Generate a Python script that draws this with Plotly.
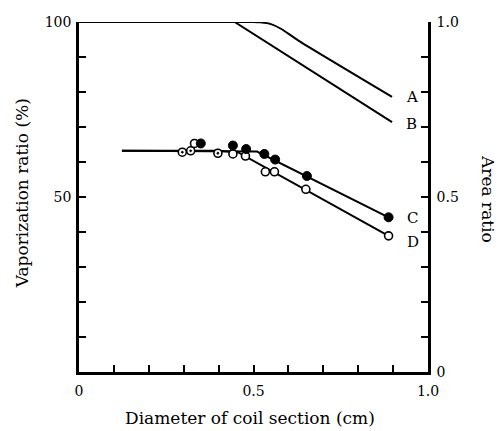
import plotly.graph_objects as go

# Curves A and B (area ratio curves), x in cm, y in %
a_x = [0.0, 0.50, 0.52, 0.55, 0.58, 0.63, 0.897]
a_y = [100.0, 100.0, 99.9, 99.4, 98.0, 94.6, 78.6]
b_x = [0.0, 0.446, 0.897]
b_y = [100.0, 100.0, 71.4]

# Lines through C and D data
c_line_x = [0.123, 0.40, 0.51, 0.887]
c_line_y = [63.2, 63.2, 63.0, 44.2]
d_line_x = [0.123, 0.40, 0.455, 0.887]
d_line_y = [63.2, 63.2, 62.8, 38.9]

# Markers
c_x = [0.349, 0.441, 0.479, 0.531, 0.562, 0.653, 0.887]
c_y = [65.3, 64.7, 63.7, 62.3, 60.7, 56.0, 44.2]
d_x = [0.331, 0.441, 0.477, 0.534, 0.560, 0.650, 0.887]
d_y = [65.3, 62.3, 61.7, 57.2, 57.2, 52.2, 38.9]
dot_x = [0.296, 0.320, 0.398]
dot_y = [62.8, 63.2, 62.5]

curve_labels = ["A", "B", "C", "D"]
label_x = [0.932, 0.932, 0.935, 0.935]
label_y = [78.6, 70.8, 44.0, 37.2]

x_ticks = [0, 0.1, 0.2, 0.3, 0.4, 0.5, 0.6, 0.7, 0.8, 0.9, 1.0]
x_ticktext = ["0", "", "", "", "", "0.5", "", "", "", "", "1.0"]
y_ticks = [0, 10, 20, 30, 40, 50, 60, 70, 80, 90, 100]
y_ticktext = ["", "", "", "", "", "50", "", "", "", "", "100"]
y2_ticks = [0, 0.1, 0.2, 0.3, 0.4, 0.5, 0.6, 0.7, 0.8, 0.9, 1.0]
y2_ticktext = ["0", "", "", "", "", "0.5", "", "", "", "", "1.0"]

FONT = "DejaVu Serif"
LW = 2

fig = go.Figure()
line_style = dict(color="black", width=LW)
fig.add_trace(go.Scatter(x=a_x, y=a_y, mode="lines", line=dict(color="black", width=LW, shape="spline", smoothing=0.6)))
fig.add_trace(go.Scatter(x=b_x, y=b_y, mode="lines", line=line_style))
fig.add_trace(go.Scatter(x=c_line_x, y=c_line_y, mode="lines", line=line_style))
fig.add_trace(go.Scatter(x=d_line_x, y=d_line_y, mode="lines", line=line_style))
fig.add_trace(go.Scatter(x=dot_x, y=dot_y, mode="markers",
                         marker=dict(symbol="circle-dot", size=8, color="white",
                                     line=dict(color="black", width=1.6))))
fig.add_trace(go.Scatter(x=d_x, y=d_y, mode="markers",
                         marker=dict(symbol="circle", size=8, color="white",
                                     line=dict(color="black", width=1.6))))
fig.add_trace(go.Scatter(x=c_x, y=c_y, mode="markers",
                         marker=dict(symbol="circle", size=9, color="black",
                                     line=dict(color="black", width=1))))
# invisible trace to anchor right axis
fig.add_trace(go.Scatter(x=[0, 1], y=[0, 1], yaxis="y2", mode="markers",
                         marker=dict(opacity=0), hoverinfo="skip"))

for t, lx, ly in zip(curve_labels, label_x, label_y):
    fig.add_annotation(x=lx, y=ly, text=t, showarrow=False, xanchor="left",
                       yanchor="middle", font=dict(family=FONT, size=15, color="black"))

fig.add_annotation(xref="paper", yref="paper", x=-0.163, y=0.511,
                   text="Vaporization ratio (%)", textangle=-90, showarrow=False,
                   xanchor="center", yanchor="middle",
                   font=dict(family=FONT, size=17, color="black"))
fig.add_annotation(xref="paper", yref="paper", x=1.172, y=0.494,
                   text="Area ratio", textangle=90, showarrow=False,
                   xanchor="center", yanchor="middle",
                   font=dict(family=FONT, size=17, color="black"))
fig.add_annotation(xref="paper", yref="paper", x=0.49, y=-0.131,
                   text="Diameter of coil section (cm)", showarrow=False,
                   xanchor="center", yanchor="middle",
                   font=dict(family=FONT, size=17, color="black"))

axis_common = dict(showgrid=False, zeroline=False, showline=True, linecolor="black",
                   linewidth=2.5, ticks="inside", ticklen=7, tickwidth=1.5,
                   tickcolor="black",
                   tickfont=dict(family=FONT, size=14, color="black"))

fig.update_layout(
    width=498, height=431,
    margin=dict(l=79, r=70, t=22, b=59),
    paper_bgcolor="white", plot_bgcolor="white",
    showlegend=False,
    hovermode=False,
    xaxis=dict(range=[0, 1], tickvals=x_ticks, ticktext=x_ticktext,
               ticklabelstandoff=4, **axis_common),
    yaxis=dict(range=[0, 100], tickvals=y_ticks, ticktext=y_ticktext,
               ticklabelstandoff=2, **axis_common),
    yaxis2=dict(range=[0, 1], tickvals=y2_ticks, ticktext=y2_ticktext, overlaying="y",
                side="right", ticklabelstandoff=3, **axis_common),
)

# remove the default page margin so the figure fills the window exactly
fig.write_html("out.html",
               config={"displayModeBar": False},
               post_script="document.body.style.margin='0';document.body.style.overflow='hidden';")
